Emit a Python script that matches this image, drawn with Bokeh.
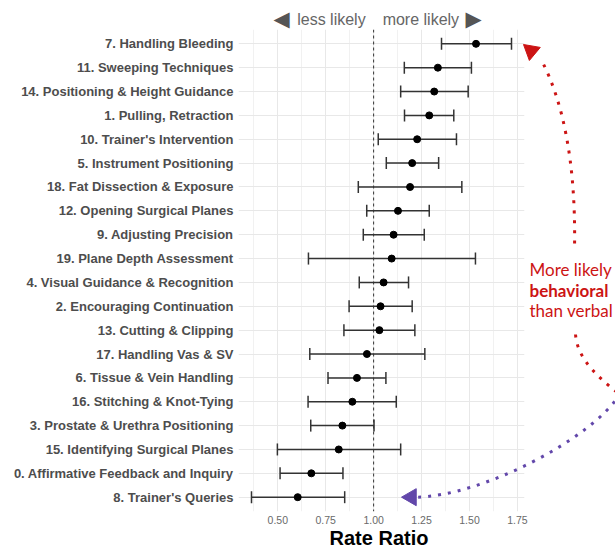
from bokeh.plotting import figure
from bokeh.models import (ColumnDataSource, Range1d, FixedTicker, Whisker, TeeHead,
                          Span, NumeralTickFormatter)
from bokeh.core.properties import value
from bokeh.embed import file_html
from bokeh.resources import INLINE

# ---------------- data ----------------
labels = [
    "7. Handling Bleeding",
    "11. Sweeping Techniques",
    "14. Positioning & Height Guidance",
    "1. Pulling, Retraction",
    "10. Trainer's Intervention",
    "5. Instrument Positioning",
    "18. Fat Dissection & Exposure",
    "12. Opening Surgical Planes",
    "9. Adjusting Precision",
    "19. Plane Depth Assessment",
    "4. Visual Guidance & Recognition",
    "2. Encouraging Continuation",
    "13. Cutting & Clipping",
    "17. Handling Vas & SV",
    "6. Tissue & Vein Handling",
    "16. Stitching & Knot-Tying",
    "3. Prostate & Urethra Positioning",
    "15. Identifying Surgical Planes",
    "0. Affirmative Feedback and Inquiry",
    "8. Trainer's Queries",
]
rate_ratio = [1.534, 1.335, 1.316, 1.290, 1.227, 1.201, 1.190, 1.127, 1.104, 1.094,
              1.052, 1.036, 1.030, 0.965, 0.913, 0.889, 0.837, 0.818, 0.675, 0.604]
ci_lower = [1.354, 1.160, 1.141, 1.161, 1.024, 1.066, 0.920, 0.964, 0.946, 0.660,
            0.925, 0.872, 0.845, 0.667, 0.762, 0.658, 0.672, 0.498, 0.512, 0.363]
ci_upper = [1.719, 1.510, 1.493, 1.418, 1.432, 1.339, 1.460, 1.290, 1.264, 1.531,
            1.182, 1.201, 1.215, 1.267, 1.064, 1.118, 1.002, 1.141, 0.840, 0.849]
x_ticks = [0.50, 0.75, 1.00, 1.25, 1.50, 1.75]

RED = "#cc1414"
PURPLE = "#6247aa"

rows = list(range(1, len(labels) + 1))
src = ColumnDataSource(dict(y=rows, rate=rate_ratio, lo=ci_lower, hi=ci_upper))

span_x = max(ci_upper) - min(ci_lower)
x_range = Range1d(min(ci_lower) - 0.05 * span_x, max(ci_upper) + 0.05 * span_x)
y_range = Range1d(len(rows) + 0.6, 0.4)

p = figure(width=615, height=552, x_range=x_range, y_range=y_range,
           output_backend="svg", toolbar_location=None,
           min_border_left=238, min_border_right=91,
           min_border_top=29, min_border_bottom=41)
p.outline_line_color = None
p.background_fill_color = "white"
p.border_fill_color = "white"

# y axis with category labels
yt = FixedTicker(ticks=rows)
p.yaxis.ticker = yt
p.ygrid.ticker = yt
p.yaxis.major_label_overrides = {r: l for r, l in zip(rows, labels)}
p.yaxis.axis_line_color = None
p.yaxis.major_tick_line_color = None
p.yaxis.minor_tick_line_color = None
p.yaxis.major_tick_out = 0
p.yaxis.minor_tick_out = 0
p.yaxis.major_label_standoff = 5
p.yaxis.major_label_text_font = "Liberation Sans"
p.yaxis.major_label_text_font_style = "bold"
p.yaxis.major_label_text_font_size = "13px"
p.yaxis.major_label_text_color = "#4d4d4d"

# x axis
step = x_ticks[1] - x_ticks[0]
minor = [t - step / 2 for t in x_ticks] + [x_ticks[-1] + step / 2]
xt = FixedTicker(ticks=x_ticks, minor_ticks=minor)
p.xaxis.ticker = xt
p.xgrid.ticker = xt
p.xaxis.formatter = NumeralTickFormatter(format="0.00")
p.xaxis.axis_line_color = None
p.xaxis.major_tick_line_color = None
p.xaxis.minor_tick_line_color = None
p.xaxis.major_tick_out = 0
p.xaxis.minor_tick_out = 0
p.xaxis.major_label_standoff = 4
p.xaxis.major_label_text_font = "Liberation Sans"
p.xaxis.major_label_text_font_size = "10.5px"
p.xaxis.major_label_text_color = "#6a6a6a"

p.xgrid.grid_line_color = "#e8e8e8"
p.xgrid.minor_grid_line_color = "#f1f1f1"
p.ygrid.grid_line_color = "#e8e8e8"

# reference line at 1
p.add_layout(Span(location=1.0, dimension="height", line_dash="3 3",
                  line_color="#333333", line_width=1, level="underlay"))

# confidence intervals
p.add_layout(Whisker(source=src, base="y", lower="lo", upper="hi", dimension="width",
                     line_color="#333333", line_width=1.5, level="underlay",
                     upper_head=TeeHead(size=12, line_color="#333333", line_width=1.5),
                     lower_head=TeeHead(size=12, line_color="#333333", line_width=1.5)))

p.scatter("rate", "y", source=src, size=7, color="black")

# ---------------- annotations (drawn unclipped, overlay level) ----------------
hdr_y = -0.04
p.text(x=[1.0], y=[hdr_y], x_offset=-8, text=["less likely"], text_align="right",
       text_baseline="middle", text_font=value("Liberation Sans"),
       text_font_size="16px", text_color="#666666", level="overlay")
p.text(x=[1.0], y=[hdr_y], x_offset=9, text=["more likely"], text_align="left",
       text_baseline="middle", text_font=value("Liberation Sans"),
       text_font_size="16px", text_color="#666666", level="overlay")
p.text(x=[1.0, 1.0], y=[hdr_y, hdr_y], x_offset=[-92, 100], text=["\u25C0", "\u25B6"],
       text_align="center", text_baseline="middle", text_font=value("DejaVu Sans"),
       text_font_size="21px", text_color="#555555", level="overlay")

# axis title
p.text(x=[1.028], y=[21.73], text=["Rate Ratio"], text_align="center",
       text_baseline="alphabetic", text_font=value("Liberation Sans"),
       text_font_style="bold", text_font_size="20px", text_color="black",
       level="overlay")

# annotation text
for txt, yy, style in [("More likely", 10.455, "normal"),
                       ("behavioral", 11.335, "bold"),
                       ("than verbal", 12.175, "normal")]:
    p.text(x=[1.813], y=[yy], text=[txt], text_align="left",
           text_baseline="alphabetic", text_font=value("Lato"),
           text_font_style=style, text_font_size="17px", text_color=RED,
           level="overlay")

# dotted curved arrows
p.bezier(x0=[2.048, 2.053], y0=[9.368, 13.182],
         x1=[1.876, 2.340], y1=[1.699, 16.032],
         cx0=[2.053, 2.063], cy0=[5.890, 14.272],
         cx1=[1.985, 2.184], cy1=[3.376, 15.110],
         line_color=RED, line_width=3, line_dash="3 7", level="overlay")
p.bezier(x0=[2.288], y0=[15.655], x1=[1.224], y1=[20.0],
         cx0=[2.131], cy0=[17.625], cx1=[1.5575], cy1=[19.95],
         line_color=PURPLE, line_width=3, line_dash="3 7", level="overlay")

# arrow heads
p.scatter(x=[1.821], y=[1.293], marker="triangle", size=17, angle=0.876,
          fill_color=RED, line_color=RED, level="overlay")
p.scatter(x=[1.1965], y=[20.0], marker="triangle", size=17, angle=1.5708,
          fill_color=PURPLE, line_color=PURPLE, level="overlay")

open("out.html", "w").write(file_html(p, INLINE))
